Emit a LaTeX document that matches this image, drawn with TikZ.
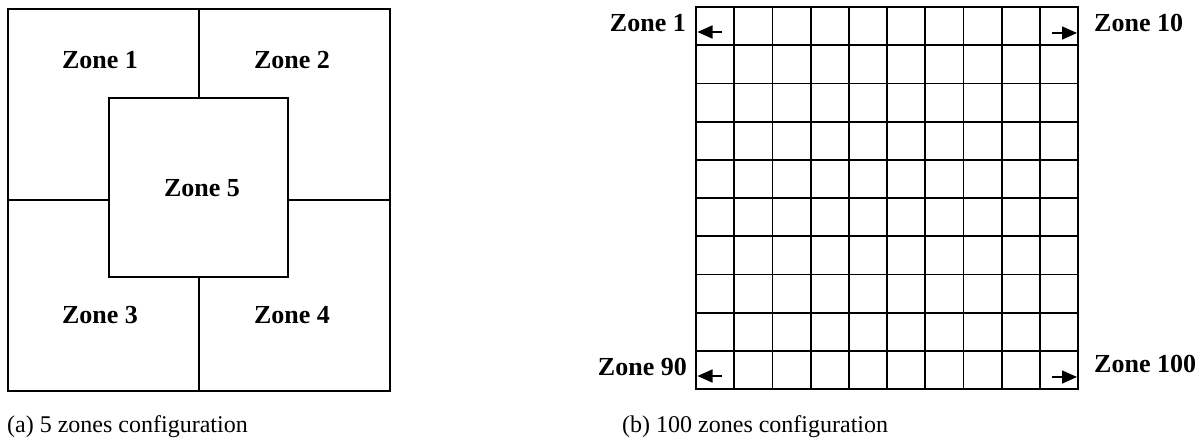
\documentclass[tikz,border=0pt]{standalone}
\usepackage{fontspec}
\setmainfont{Liberation Serif}
\usetikzlibrary{arrows.meta}
\begin{document}
\begin{tikzpicture}[x=1pt,y=-1pt,
  wall/.style={line width=1.8pt, line cap=rect},
  zlabel/.style={font=\fontsize{26}{30}\selectfont\bfseries, inner sep=0pt, anchor=base},
  captext/.style={font=\fontsize{24}{28}\selectfont, inner sep=0pt, anchor=base west},
  dirarrow/.style={line width=1.6pt, -{Triangle[length=15pt,width=13pt]}}]
\useasboundingbox (0,0) rectangle (1204,442);
% (a) five zones
\draw[wall] (8,9) rectangle (390,391);
\draw[wall] (109,98) rectangle (288,277);
\draw[wall] (199,9) -- (199,98);
\draw[wall] (199,277) -- (199,391);
\draw[wall] (8,200) -- (109,200);
\draw[wall] (288,200) -- (390,200);
\node[zlabel] (z1) at (100,68) {Zone 1};
\node[zlabel] (z2) at (292,68) {Zone 2};
\node[zlabel] (z5) at (202,196) {Zone 5};
\node[zlabel] (z3) at (100,323) {Zone 3};
\node[zlabel] (z4) at (292,323) {Zone 4};
\node[captext] (capa) at (7,432) {(a) 5 zones configuration};
% (b) hundred zones
\foreach \i in {0,...,10} {
  \draw[wall] ({696+38.2*\i},7) -- ({696+38.2*\i},389);
  \draw[wall] (696,{7+38.2*\i}) -- (1078,{7+38.2*\i});
}
\coordinate (a1s) at (722,32);  \coordinate (a1e) at (697.5,32);
\coordinate (a2s) at (1052,33); \coordinate (a2e) at (1077,33);
\coordinate (a3s) at (722,376); \coordinate (a3e) at (697.5,376);
\coordinate (a4s) at (1052,377); \coordinate (a4e) at (1077,377);
\draw[dirarrow] (a1s) -- (a1e);
\draw[dirarrow] (a2s) -- (a2e);
\draw[dirarrow] (a3s) -- (a3e);
\draw[dirarrow] (a4s) -- (a4e);
\node[zlabel, anchor=base east] (r1) at (686,31) {Zone 1};
\node[zlabel, anchor=base west] (r10) at (1094,31) {Zone 10};
\node[zlabel, anchor=base east] (r90) at (687,375) {Zone 90};
\node[zlabel, anchor=base west] (r100) at (1094,372) {Zone 100};
\node[captext] (capb) at (622,432) {(b) 100 zones configuration};
\end{tikzpicture}
\end{document}
